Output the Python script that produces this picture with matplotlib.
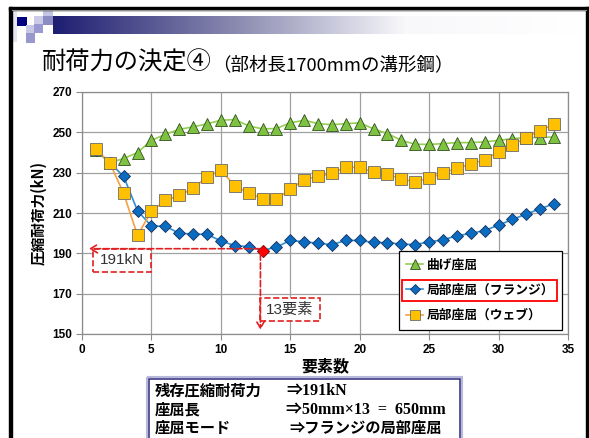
import numpy as np
import matplotlib
matplotlib.use("Agg")
import matplotlib.pyplot as plt
from matplotlib.patches import Rectangle
from matplotlib.lines import Line2D
from matplotlib.colors import LinearSegmentedColormap

plt.rcParams['font.family'] = ['Noto Sans CJK JP', 'DejaVu Sans']

# データ（要素数ごとの圧縮耐荷力 kN）
elements = list(range(1, 35))
bending = [241, 235, 237, 240, 246, 249, 251.5, 252.7, 254.2, 256, 256.3, 253.2, 251.7, 251.9, 254.7, 256,
           254.3, 253.8, 254.3, 254.7, 251.7, 249.4, 246, 244.1, 244, 244.4, 244.9, 244.9, 245.3, 246,
           246.9, 247.4, 247.4, 247.7]
flange = [241, 235, 228.1, 211.1, 203.5, 203.5, 199.9, 199.6, 199.4, 196.2, 193.8, 193.3, 191.4, 193.1, 196.4, 195.7,
          195, 194.3, 196.4, 196.4, 195.4, 195.3, 194.6, 194.3, 195.7, 196.7, 198.7, 199.9, 201.3, 204,
          206.8, 209.5, 212.1, 214.6]
web = [241.5, 234.9, 219.7, 198.9, 210.9, 216.2, 218.7, 222.2, 227.9, 231.2, 223.5, 220, 217, 216.9, 221.8, 226.6,
       228.1, 229.6, 232.7, 232.6, 230.2, 229.1, 227, 225.3, 227.4, 229.6, 232.4, 234.1, 236.5, 240.3,
       243.8, 247.4, 250.9, 254]
labels = ['曲げ座屈', '局部座屈（フランジ）', '局部座屈（ウェブ）']
min_elem = 13
min_load = 191
yticks = [150, 170, 190, 210, 230, 250, 270]
xticks = [0, 5, 10, 15, 20, 25, 30, 35]

W, H = 589, 438
fig = plt.figure(figsize=(W / 100, H / 100), dpi=100)

# スライド背景（枠・ヘッダー）
bg = fig.add_axes([0, 0, 1, 1], zorder=-1)
cmap = LinearSegmentedColormap.from_list('hdr', ['#1e1e72', '#8686ae', '#f8f8fb', '#ffffff'])
bg.imshow(np.linspace(0, 1, 256)[None, :], extent=[53, 582, 34, 16], cmap=cmap, aspect='auto')
for (x0, y0, w, h, c) in [(11, 10, 6, 32, '#e6e6f2'), (17, 17, 10, 9, '#000080'), (34, 16, 9, 8, '#cbcbe8'),
                          (43, 10, 10, 6, '#c4c4e4'), (43, 16, 10, 9, '#8c8cc4'), (26, 25, 8, 8, '#c8c8e6'),
                          (34, 24, 9, 9, '#9a9ad0'), (26, 33, 9, 10, '#9898cc')]:
    bg.add_patch(Rectangle((x0, y0), w, h, facecolor=c, edgecolor='none'))
bg.add_patch(Rectangle((8.5, 7), 3, H, color='black'))
bg.add_patch(Rectangle((8.5, 7), W, 2.5, color='black'))
bg.add_patch(Rectangle((585.5, 7), 4, H, color='black'))
bg.plot([11.5, 585.5], [10.3, 10.3], color='#909090', lw=0.8)
# 下の説明ボックス
bg.add_patch(Rectangle((147, 377), 315, 70, facecolor='none', edgecolor='#b8b8dc', lw=1.5))
bg.add_patch(Rectangle((149, 379), 311, 70, facecolor='white', edgecolor='#2a2a7a', lw=1.1))
rows = [('残存圧縮耐荷力', '⇒191kN', 'serif'), ('座屈長', '⇒50mm×13  =  650mm', 'serif'),
        ('座屈モード', '⇒フランジの局部座屈', 'sans')]
for i, (left, right, kind) in enumerate(rows):
    yy = 391 + i * 18.5
    bg.text(155, yy, left, fontsize=11, fontweight='bold', va='center', ha='left')
    if kind == 'serif':
        bg.text(286, yy, right, fontsize=11.5, fontweight='bold', va='center', ha='left',
                family=['Liberation Serif', 'Noto Sans CJK JP'])
    else:
        bg.text(289, yy, right, fontsize=11, fontweight='bold', va='center', ha='left')
bg.set_xlim(0, W)
bg.set_ylim(H, 0)
bg.axis('off')

fig.text(42 / W, 1 - 63 / H, '耐荷力の決定④', fontsize=17.5, va='center', ha='left')
fig.text(212 / W, 1 - 65 / H, '（部材長1700mmの溝形鋼）', fontsize=13.3, va='center', ha='left')

# グラフ本体
ax = fig.add_axes([82 / W, 1 - 334 / H, (568 - 82) / W, (334 - 92) / H])
ax.plot(elements, bending, color='#92d050', lw=1.2, marker='^', ms=8.5, mfc='#7fc241', mec='#2f4f1f',
        mew=0.6, zorder=3)
ax.plot(elements, flange, color='#2e8fd8', lw=1.2, marker='D', ms=6.5, mfc='#0a6cc0', mec='#1b2f5a',
        mew=0.6, zorder=4)
ax.plot(elements, web, color='#f7a040', lw=1.2, marker='s', ms=8, mfc='#ffc000', mec='#6a6a6a',
        mew=0.6, zorder=5)
ax.plot([min_elem], [flange[min_elem - 1]], marker='D', ms=6.5, mfc='#ff0000', mec='#9a1010', mew=0.6,
        ls='none', zorder=6)

red = '#e02020'
ax.annotate('', xy=(0.3, min_load + 1.3), xytext=(min_elem, min_load + 1.3),
            arrowprops=dict(arrowstyle='->,head_length=0.5,head_width=0.3', color=red, ls='--', lw=1.2),
            zorder=7)
ax.annotate('', xy=(min_elem - 0.15, 150.8), xytext=(min_elem - 0.15, min_load),
            arrowprops=dict(arrowstyle='->,head_length=0.5,head_width=0.3', color=red, ls='--', lw=1.2),
            zorder=7)
ax.add_patch(Rectangle((0.8, 180.9), 4.2, min_load + 1.3 - 180.9, facecolor='white', edgecolor=red,
                       ls='--', lw=1.2, zorder=6))
ax.text(2.9, 186.6, f'{min_load}kN', fontsize=11, color='#333333', ha='center', va='center',
        family=['Liberation Sans', 'Noto Sans CJK JP'], zorder=8)
ax.add_patch(Rectangle((min_elem - 0.15, 156.2), 4.3, 11.5, facecolor='white', edgecolor=red,
                       ls='--', lw=1.2, zorder=6))
ax.text(14.95, 161.9, f'{min_elem}要素', fontsize=11, color='#333333', ha='center', va='center',
        family=['Liberation Sans', 'Noto Sans CJK JP'], zorder=8)

ax.set_xlim(0, 35)
ax.set_ylim(150, 270)
ax.set_xticks(xticks)
ax.set_yticks(yticks)
ax.grid(True, color='#a0a0a0', lw=0.9)
ax.set_axisbelow(True)
for s in ax.spines.values():
    s.set_color('#8c8c8c')
    s.set_linewidth(0.9)
ax.tick_params(direction='out', length=4, width=0.8, color='#8c8c8c', pad=3, labelsize=8.5)
for t in ax.get_xticklabels() + ax.get_yticklabels():
    t.set_fontfamily('Liberation Sans')
    t.set_fontweight('bold')
ax.set_xlabel('要素数', fontsize=11.5, fontweight='bold', labelpad=2)
ax.set_ylabel('圧縮耐荷力(kN)', fontsize=10.5, fontweight='bold', labelpad=4)

handles = [Line2D([], [], color='#92d050', lw=1.2, marker='^', ms=7, mfc='#7fc241', mec='#2f4f1f', mew=0.6),
           Line2D([], [], color='#2e8fd8', lw=1.2, marker='D', ms=5.5, mfc='#0a6cc0', mec='#1b2f5a', mew=0.6),
           Line2D([], [], color='#f7a040', lw=1.2, marker='s', ms=6.5, mfc='#ffc000', mec='#6a6a6a', mew=0.6)]
leg = ax.legend(handles, labels, loc='center', bbox_to_anchor=(0.665, 0.021, 0.309, 0.318),
                prop={'size': 9.2, 'weight': 'bold'}, handlelength=1.3, handletextpad=0.3,
                labelspacing=0.95, borderpad=0.6, fancybox=False, framealpha=1, edgecolor='black')
leg.get_frame().set_linewidth(0.9)
leg.set_zorder(10)

# 凡例の2番目（フランジ）を赤枠で囲む
fig.canvas.draw()
r = fig.canvas.get_renderer()
fb = leg.get_frame().get_window_extent(r)
tb = leg.get_texts()[1].get_window_extent(r)
inv = fig.transFigure.inverted()
(x0, y0), (x1, y1) = inv.transform([(fb.x0 + 3, tb.y0 - 4), (tb.x1 + 3, tb.y1 + 4)])
fig.add_artist(Rectangle((x0, y0), x1 - x0, y1 - y0, transform=fig.transFigure, facecolor='none',
                         edgecolor='#ff0000', lw=1.3, zorder=20))

fig.savefig('out.png', dpi=100)
